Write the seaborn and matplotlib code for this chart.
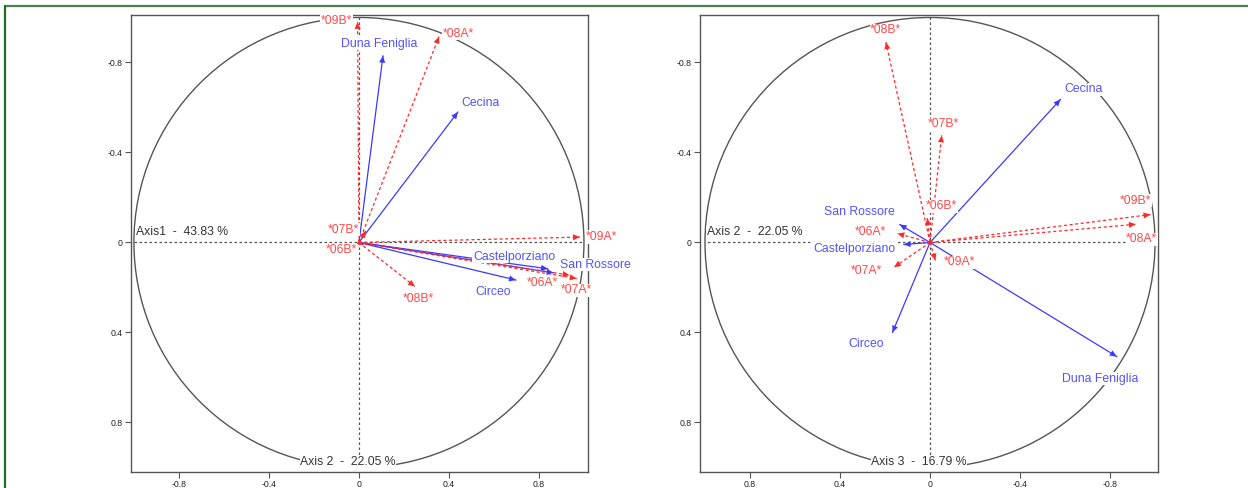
import numpy as np
import pandas as pd
import matplotlib
matplotlib.use("Agg")
import matplotlib.pyplot as plt
from matplotlib.lines import Line2D
from matplotlib.patches import Circle
import seaborn as sns

# Correlation circles: site and year variables on the first three axes
sites = ["Duna Feniglia", "Cecina", "Castelporziano", "San Rossore", "Circeo"]
site_axis1 = [0.107, 0.44, 0.84, 0.865, 0.698]
site_axis2 = [-0.83, -0.58, 0.117, 0.135, 0.167]
site_axis3 = [0.507, -0.636, 0.009, -0.08, 0.40]

years = ["*06A*", "*06B*", "*07A*", "*07B*", "*08A*", "*08B*", "*09A*", "*09B*"]
year_axis1 = [0.936, 0.022, 0.968, 0.031, 0.356, 0.249, 0.982, -0.006]
year_axis2 = [0.145, 0.012, 0.16, -0.052, -0.915, 0.196, -0.024, -0.98]
year_axis3 = [-0.04, -0.108, 0.11, -0.476, -0.081, -0.89, 0.08, -0.124]

axis_names = ["Axis1", "Axis 2", "Axis 3"]
inertia = [43.83, 22.05, 16.79]
tick_values = [-0.8, -0.4, 0, 0.4, 0.8]

sns.set_style("white")
plt.rcParams["font.family"] = ["Liberation Sans", "DejaVu Sans"]

BLUE_LINE = "#3a3aff"
BLUE_TEXT = "#5252ff"
RED_LINE = "#ff2a2a"
RED_TEXT = "#ff4a4a"
GREY = "#555555"

# label offsets in pixels (dx right, dy down) for each panel
left_offsets = {
    "Duna Feniglia": (-4, -12), "Cecina": (23, -9), "Castelporziano": (-34, -12),
    "San Rossore": (42, -8), "Circeo": (-23, 12),
    "*06A*": (-27, 8), "*06B*": (-22, 5), "*07A*": (0, 12), "*07B*": (-22, -1),
    "*08A*": (19, -3), "*08B*": (3, 12), "*09A*": (22, 0), "*09B*": (-21, -1),
}
right_offsets = {
    "Duna Feniglia": (-17, 22), "Cecina": (23, -10), "Castelporziano": (-49, 4),
    "San Rossore": (-40, -12), "Circeo": (-26, 12),
    "*06A*": (-27, -1), "*06B*": (14, -12), "*07A*": (-28, 4), "*07B*": (2, -11),
    "*08A*": (6, 15), "*08B*": (0, -12), "*09A*": (24, 2), "*09B*": (-15, -14),
}


def build_frame(site_x, site_y, year_x, year_y):
    rows = []
    for name, x, y in zip(sites, site_x, site_y):
        rows.append((name, "site", 0.0, 0.0, 0))
        rows.append((name, "site", x, y, 1))
    for name, x, y in zip(years, year_x, year_y):
        rows.append((name, "year", 0.0, 0.0, 0))
        rows.append((name, "year", x, y, 1))
    return pd.DataFrame(rows, columns=["label", "kind", "x", "y", "end"])


def corcircle(ax, df, offsets, xlab, ylab, xlim, ylim, hlab_anchor):
    ax.set_xlim(*xlim)
    ax.set_ylim(*ylim)
    ax.set_aspect("equal", adjustable="box")

    ax.add_patch(Circle((0, 0), 1, fill=False, ec=GREY, lw=1.0, zorder=1))
    ax.plot([-1, 1], [0, 0], ls=(0, (2, 2)), color=GREY, lw=0.9, zorder=1)
    ax.plot([0, 0], [-1, 1], ls=(0, (2, 2)), color=GREY, lw=0.9, zorder=1)

    sns.lineplot(data=df, x="x", y="y", units="label", estimator=None,
                 hue="kind", style="kind",
                 palette={"site": BLUE_LINE, "year": RED_LINE},
                 dashes={"site": "", "year": (2.5, 2)},
                 sort=False, legend=False, lw=0.9, ax=ax, zorder=3)

    tips = df[df["end"] == 1]
    for _, r in tips.iterrows():
        lc = BLUE_LINE if r["kind"] == "site" else RED_LINE
        tc = BLUE_TEXT if r["kind"] == "site" else RED_TEXT
        ax.annotate("", xy=(r["x"], r["y"]), xytext=(0, 0),
                    arrowprops=dict(arrowstyle="-|>,head_length=0.5,head_width=0.22",
                                    color=lc, lw=0, shrinkA=0, shrinkB=0,
                                    mutation_scale=10), zorder=4)
        dx, dy = offsets[r["label"]]
        ax.annotate(r["label"], xy=(r["x"], r["y"]), xytext=(dx, -dy),
                    textcoords="offset pixels", ha="center", va="center",
                    color=tc, fontsize=8.8, zorder=5,
                    bbox=dict(boxstyle="square,pad=0.05", fc="white", ec="none"))

    ax.annotate(xlab, xy=(hlab_anchor, 0), xytext=(2, 10), textcoords="offset pixels",
                ha="left", va="center", color="#333333", fontsize=8.8, zorder=5,
                bbox=dict(boxstyle="square,pad=0.05", fc="white", ec="none"))
    ax.annotate(ylab, xy=(0, 1), xytext=(-11, 5), textcoords="offset pixels",
                ha="center", va="center", color="#333333", fontsize=8.8, zorder=5,
                bbox=dict(boxstyle="square,pad=0.05", fc="white", ec="none"))

    ax.set_xticks(tick_values)
    ax.set_yticks(tick_values)
    ax.set_xticklabels([f"{v:g}" for v in tick_values])
    ax.set_yticklabels([f"{v:g}" for v in tick_values])
    ax.tick_params(axis="both", which="both", direction="out", length=4, width=0.8,
                   color=GREY, labelsize=6.3, labelcolor="#222222", pad=2,
                   left=True, bottom=True)
    for sp in ax.spines.values():
        sp.set_visible(True)
        sp.set_color(GREY)
        sp.set_linewidth(1.0)
    ax.set_xlabel("")
    ax.set_ylabel("")


fig = plt.figure(figsize=(12.48, 4.88), dpi=100)
ax1 = fig.add_axes([131 / 1248, 1 - 472 / 488, 457 / 1248, 457 / 488])
ax2 = fig.add_axes([700 / 1248, 1 - 472 / 488, 458 / 1248, 457 / 488])

left_df = build_frame(site_axis1, site_axis2, year_axis1, year_axis2)
right_df = build_frame(site_axis2, site_axis3, year_axis2, year_axis3)

corcircle(ax1, left_df, left_offsets,
          f"{axis_names[0]}  -  {inertia[0]:.2f} %", f"{axis_names[1]}  -  {inertia[1]:.2f} %",
          (-1.013, 1.018), (1.02, -1.011), -1.0)
corcircle(ax2, right_df, right_offsets,
          f"{axis_names[1]}  -  {inertia[1]:.2f} %", f"{axis_names[2]}  -  {inertia[2]:.2f} %",
          (1.022, -1.013), (1.02, -1.011), 1.0)

# thin green frame along the top and left edges
fig.add_artist(Line2D([5 / 1248, 1], [1 - 6 / 488, 1 - 6 / 488], transform=fig.transFigure,
                      color="#4e7f4e", lw=1.6))
fig.add_artist(Line2D([5 / 1248, 5 / 1248], [0, 1 - 6 / 488], transform=fig.transFigure,
                      color="#1f6e1f", lw=1.6))

fig.savefig("out.png", dpi=100)
